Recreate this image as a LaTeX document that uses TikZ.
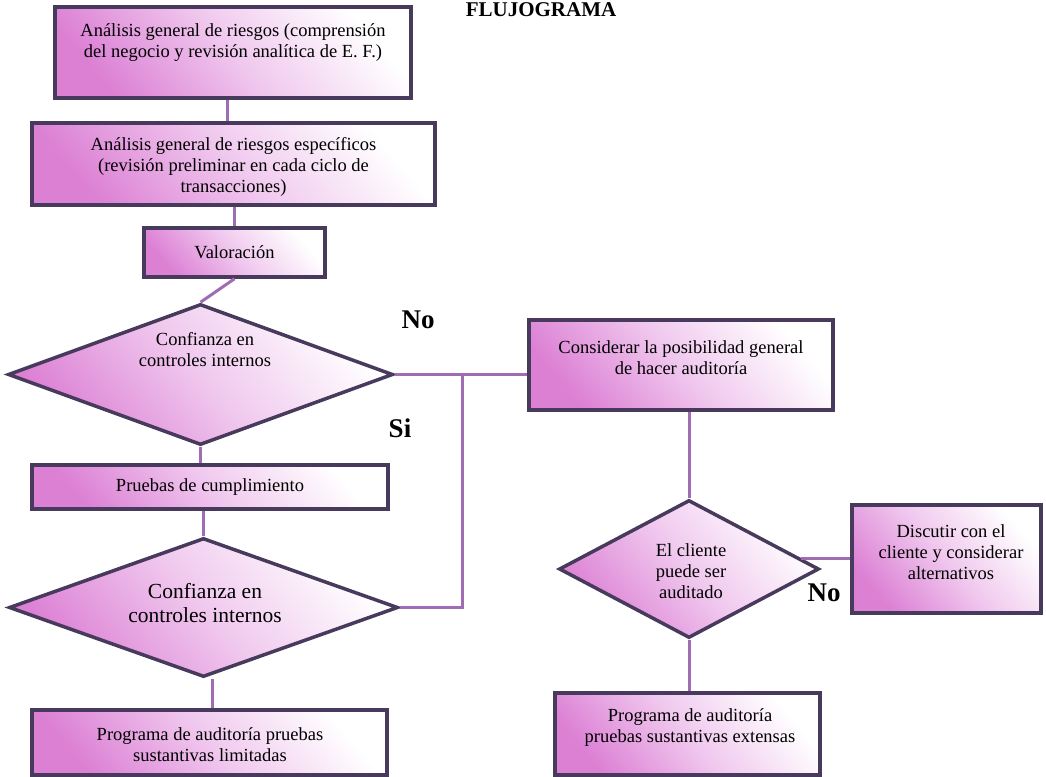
\documentclass[tikz,border=0pt]{standalone}
\usepackage{fontspec}
\setmainfont{Liberation Serif}
\usetikzlibrary{shapes.geometric,calc}
\definecolor{pinkc}{RGB}{220,128,212}
\definecolor{pinkm}{RGB}{240,200,238}
\definecolor{edgec}{RGB}{72,58,92}
\definecolor{linkc}{RGB}{160,108,180}
\tikzset{
  boxfill/.style={draw=edgec, line width=3.5pt, shade, shading=axis,
    top color=white, bottom color=pinkc, middle color=pinkm, shading angle=-50},
  stepbox/.style={boxfill, rectangle, inner sep=0pt},
  decbox/.style={boxfill, diamond, inner sep=0pt},
  txt/.style={align=center, inner sep=0pt, font=\fontsize{18.5}{21}\selectfont},
  bigtxt/.style={align=center, inner sep=0pt, font=\fontsize{21.5}{24}\selectfont},
  lbl/.style={inner sep=0pt, font=\fontsize{27}{30}\selectfont\bfseries},
  link/.style={draw=linkc, line width=3pt}
}
\begin{document}
\begin{tikzpicture}[x=1pt, y=-1pt]
\useasboundingbox (0,0) rectangle (1046,776);
\fill[white] (0,0) rectangle (1046,776);

% title
\node[anchor=base, inner sep=0pt, font=\fontsize{21}{24}\selectfont\bfseries] (title) at (541,17) {FLUJOGRAMA};

% shapes
\node[stepbox, minimum width=356pt, minimum height=91pt] (b1) at (233,52.5) {};
\node[stepbox, minimum width=403pt, minimum height=82pt] (b2) at (233.5,164) {};
\node[stepbox, minimum width=181pt, minimum height=49pt] (b3) at (234.5,252.5) {};
\node[decbox, minimum width=385pt, minimum height=141pt] (d1) at (200.5,374.5) {};
\node[stepbox, minimum width=356pt, minimum height=44pt] (pr) at (210,487) {};
\node[decbox, minimum width=389pt, minimum height=139pt] (d3) at (203.5,607.5) {};
\node[stepbox, minimum width=355pt, minimum height=65pt] (bl) at (209.5,742.5) {};
\node[stepbox, minimum width=304pt, minimum height=90pt] (cons) at (681,365) {};
\node[decbox, minimum width=260pt, minimum height=138pt] (d2) at (689,569) {};
\node[stepbox, minimum width=189pt, minimum height=108pt] (disc) at (946.5,559) {};
\node[stepbox, minimum width=265pt, minimum height=82pt] (be) at (687.5,734) {};

\coordinate (j) at (462,375);
\coordinate (d2r) at ($(d2.east)!0.15!(d2.north)$);

% connectors
\begin{scope}[link]
\draw ([xshift=-6pt]b1.south) -- ([xshift=-6pt]b1.south |- b2.north);
\draw (b3.north) -- (b3.north |- b2.south);
\draw (b3.south) -- (d1.north);
\draw (d1.south) -- (d1.south |- pr.north);
\draw (pr.south -| d3.north) -- (d3.north);
\draw ([xshift=9pt]d3.south) -- ([xshift=9pt]d3.south |- bl.north);
\draw (d1.east) -- (d1.east -| cons.west);
\draw (d3.east) -- (d3.east -| j) -- (j);
\draw (d2.north) -- (d2.north |- cons.south);
\draw (d2.south) -- (d2.south |- be.north);
\draw (d2r) -- (d2r -| disc.west);
\end{scope}

% texts
\node[txt] (t1) at (233,43) {Análisis general de riesgos (comprensión\\del negocio y revisión analítica de E. F.)};
\node[txt] (t2) at (233.5,167) {Análisis general de riesgos específicos\\(revisión preliminar en cada ciclo de\\transacciones)};
\node[txt] (t3) at (234.5,252) {Valoración};
\node[txt] (t4) at (205,350) {Confianza en\\controles internos};
\node[txt] (t5) at (210,487) {Pruebas de cumplimiento};
\node[bigtxt] (t6) at (205,603) {Confianza en\\controles internos};
\node[txt] (t7) at (210,745) {Programa de auditoría pruebas\\sustantivas limitadas};
\node[txt] (t8) at (681,357.5) {Considerar la posibilidad general\\de hacer auditoría};
\node[txt] (t9) at (691,571) {El cliente\\puede ser\\auditado};
\node[txt] (t10) at (951,552) {Discutir con el\\cliente y considerar\\alternativos};
\node[txt] (t11) at (690,727.5) {Programa de auditoría\\pruebas sustantivas extensas};

% branch labels
\node[lbl] (no1) at (418,320) {No};
\node[lbl] (si) at (400,428) {Si};
\node[lbl] (no2) at (824,593) {No};
\end{tikzpicture}
\end{document}
